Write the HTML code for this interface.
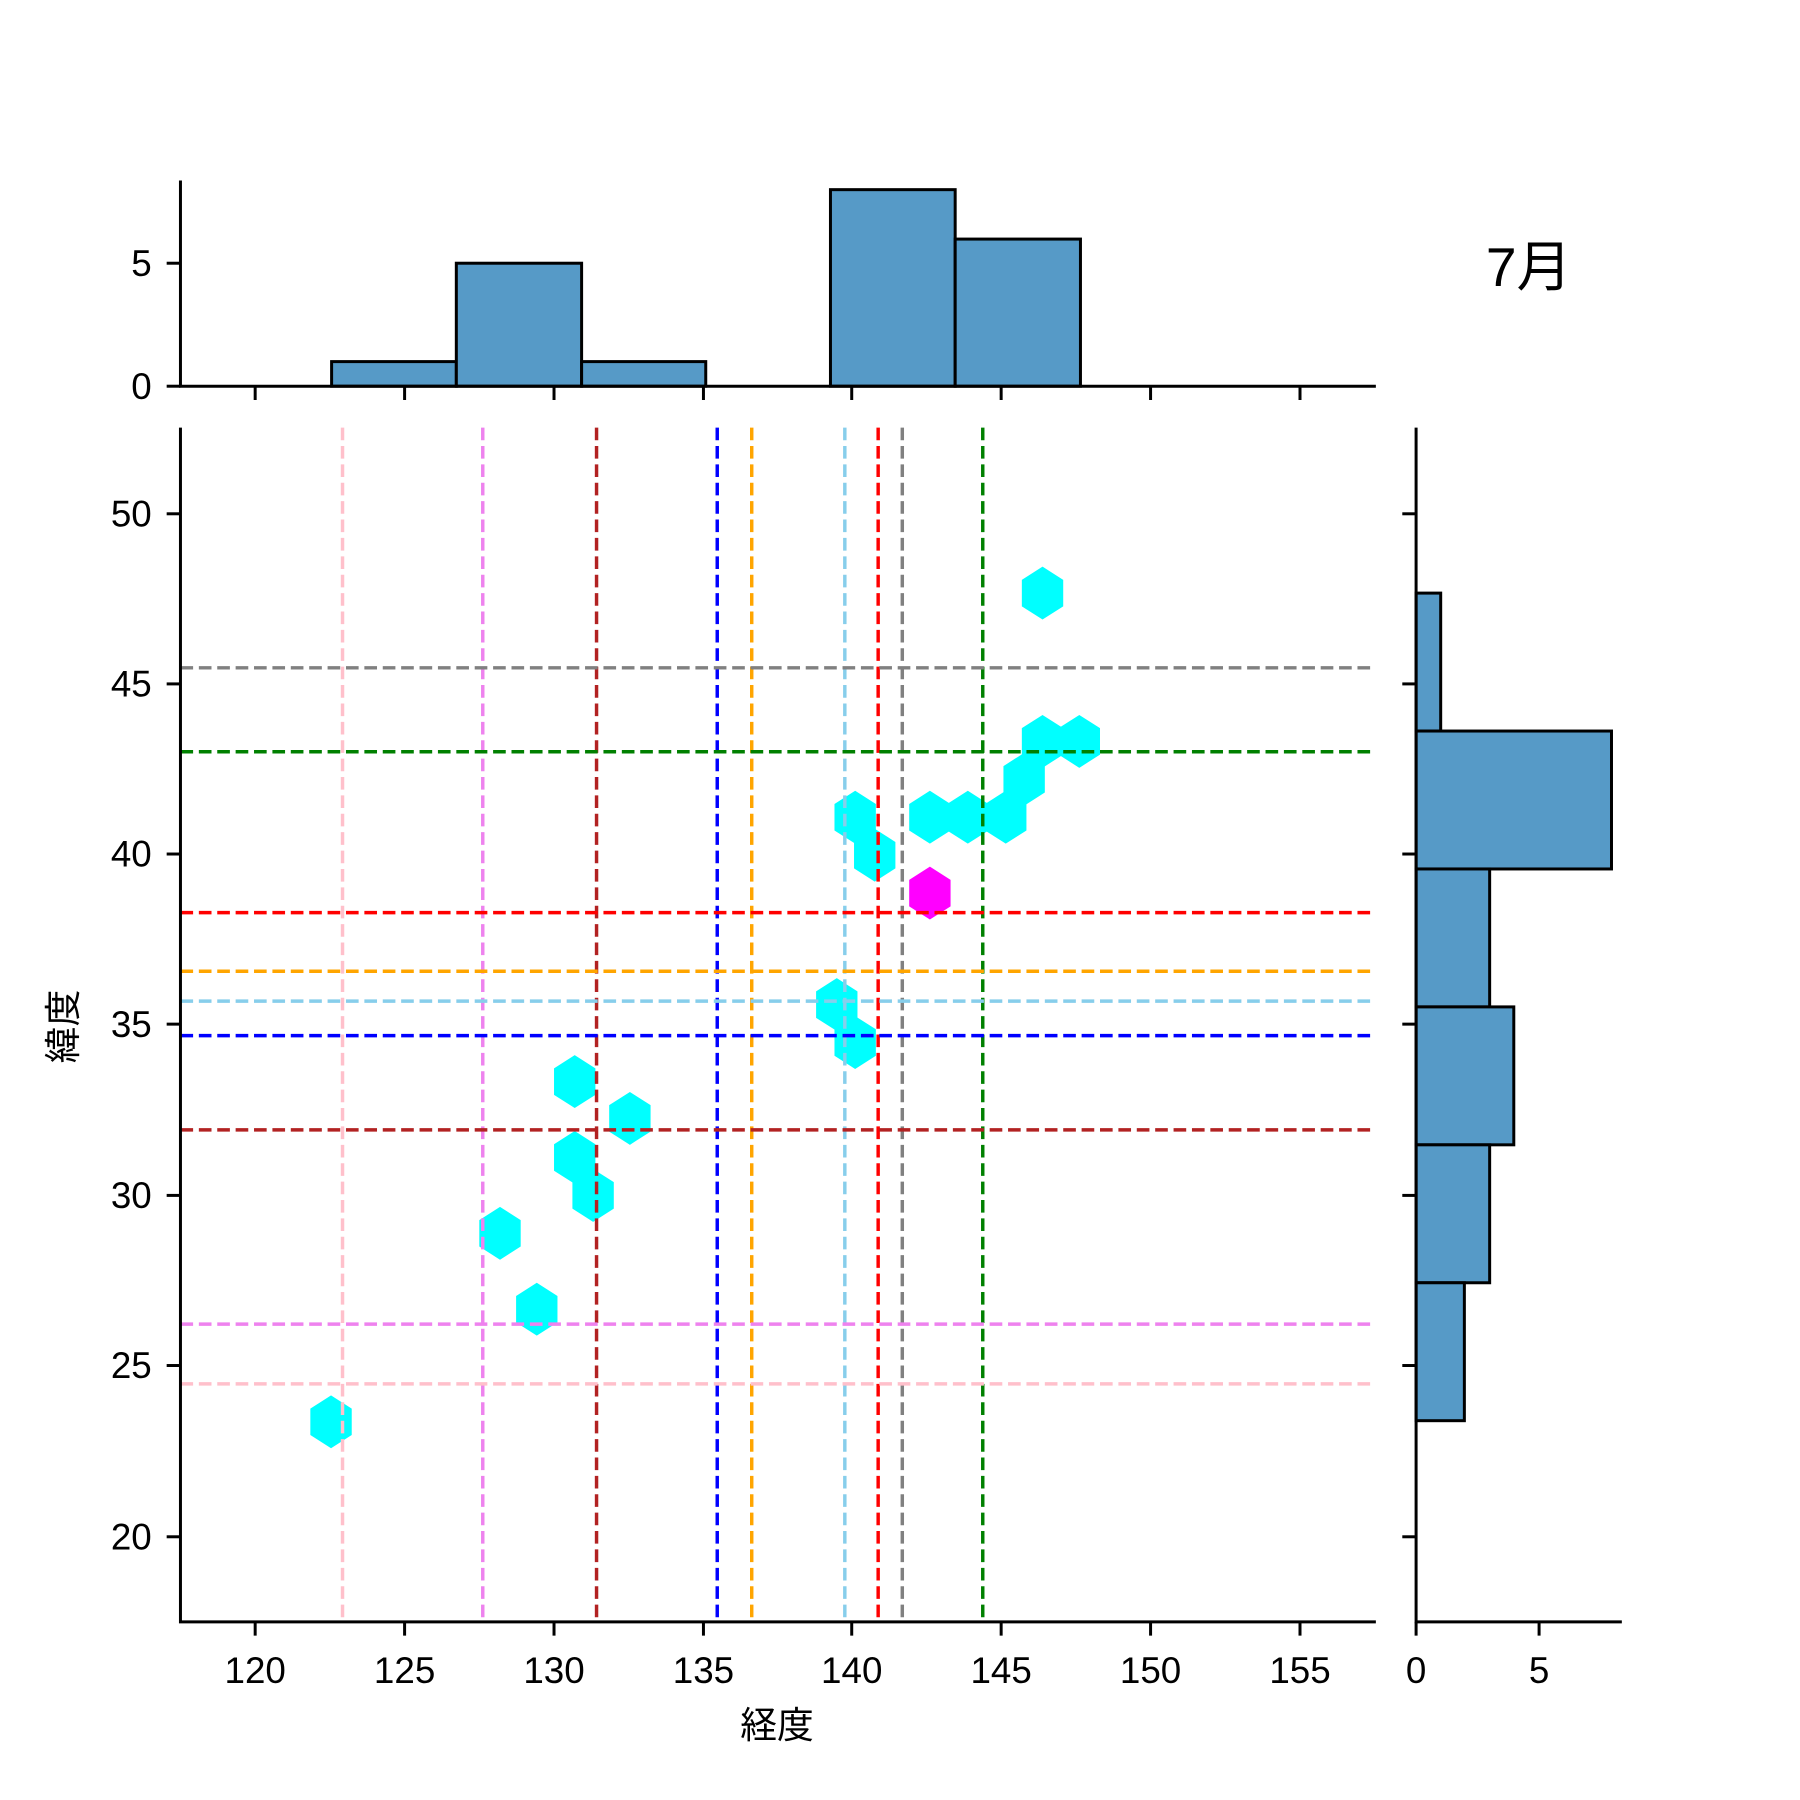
<!DOCTYPE html>
<html><head><meta charset="utf-8"><style>html,body{margin:0;padding:0;background:#fff}svg{display:block}text{font-family:"Liberation Sans","Noto Sans CJK JP",sans-serif;fill:#000}</style></head>
<body>
<svg width="1800" height="1800" viewBox="0 0 1566 1566" xmlns="http://www.w3.org/2000/svg">
<rect width="1566" height="1566" fill="#fff"/>
<defs><path id="hx" d="M0,-23 L18,-11.5 L18,11.5 L0,23 L-18,11.5 L-18,-11.5 Z"/></defs>
<!-- hexes -->
<g fill="#00ffff">
<use href="#hx" x="907" y="516"/><use href="#hx" x="907" y="645"/><use href="#hx" x="939" y="645"/>
<use href="#hx" x="891" y="678"/><use href="#hx" x="875" y="711"/><use href="#hx" x="842" y="711"/>
<use href="#hx" x="809" y="711"/><use href="#hx" x="744" y="711"/><use href="#hx" x="761" y="744"/>
<use href="#hx" x="728" y="874"/><use href="#hx" x="744" y="907"/><use href="#hx" x="500" y="941"/>
<use href="#hx" x="548" y="973"/><use href="#hx" x="500" y="1007"/><use href="#hx" x="516" y="1040"/>
<use href="#hx" x="435" y="1073"/><use href="#hx" x="467" y="1139"/><use href="#hx" x="288" y="1237"/>
</g>
<use href="#hx" x="809" y="777" fill="#ff00ff"/>
<!-- dashed lines -->
<g stroke-width="3" stroke-dasharray="11,5" fill="none">
<line x1="298" y1="372" x2="298" y2="1411" stroke="pink"/>
<line x1="420" y1="372" x2="420" y2="1411" stroke="violet"/>
<line x1="519" y1="372" x2="519" y2="1411" stroke="firebrick"/>
<line x1="624" y1="372" x2="624" y2="1411" stroke="blue"/>
<line x1="654" y1="372" x2="654" y2="1411" stroke="orange"/>
<line x1="735" y1="372" x2="735" y2="1411" stroke="skyblue"/>
<line x1="764" y1="372" x2="764" y2="1411" stroke="red"/>
<line x1="785" y1="372" x2="785" y2="1411" stroke="gray"/>
<line x1="855" y1="372" x2="855" y2="1411" stroke="green"/>
<line x1="157" y1="581" x2="1197" y2="581" stroke="gray"/>
<line x1="157" y1="654" x2="1197" y2="654" stroke="green"/>
<line x1="157" y1="794" x2="1197" y2="794" stroke="red"/>
<line x1="157" y1="845" x2="1197" y2="845" stroke="orange"/>
<line x1="157" y1="871" x2="1197" y2="871" stroke="skyblue"/>
<line x1="157" y1="901" x2="1197" y2="901" stroke="blue"/>
<line x1="157" y1="983" x2="1197" y2="983" stroke="firebrick"/>
<line x1="157" y1="1152" x2="1197" y2="1152" stroke="violet"/>
<line x1="157" y1="1204" x2="1197" y2="1204" stroke="pink"/>
</g>
<!-- main axes -->
<g stroke="#000" stroke-width="2.6" fill="none">
<polyline points="157,372 157,1411 1197,1411"/>
<line x1="222" y1="1411" x2="222" y2="1423"/><line x1="352" y1="1411" x2="352" y2="1423"/><line x1="482" y1="1411" x2="482" y2="1423"/><line x1="612" y1="1411" x2="612" y2="1423"/><line x1="741" y1="1411" x2="741" y2="1423"/><line x1="871" y1="1411" x2="871" y2="1423"/><line x1="1001" y1="1411" x2="1001" y2="1423"/><line x1="1131" y1="1411" x2="1131" y2="1423"/>
<line x1="145" y1="447" x2="157" y2="447"/><line x1="145" y1="595" x2="157" y2="595"/><line x1="145" y1="743" x2="157" y2="743"/><line x1="145" y1="891" x2="157" y2="891"/><line x1="145" y1="1040" x2="157" y2="1040"/><line x1="145" y1="1188" x2="157" y2="1188"/><line x1="145" y1="1337" x2="157" y2="1337"/>
</g>
<g font-size="32" text-anchor="middle">
<text x="222" y="1464">120</text><text x="352" y="1464">125</text><text x="482" y="1464">130</text><text x="612" y="1464">135</text><text x="741" y="1464">140</text><text x="871" y="1464">145</text><text x="1001" y="1464">150</text><text x="1131" y="1464">155</text>
</g>
<g font-size="32" text-anchor="end">
<text x="132" y="458">50</text><text x="132" y="606">45</text><text x="132" y="754">40</text><text x="132" y="902">35</text><text x="132" y="1051">30</text><text x="132" y="1199">25</text><text x="132" y="1348">20</text>
</g>
<text x="676" y="1512" font-size="32" text-anchor="middle">経度</text>
<text transform="translate(66,893) rotate(-90)" font-size="32" text-anchor="middle">緯度</text>
<!-- top hist -->
<g fill="#569ac7" stroke="#000" stroke-width="2.6">
<rect x="288.5" y="314.6" width="108.5" height="21.4"/>
<rect x="397" y="229" width="109" height="107"/>
<rect x="506" y="314.6" width="108" height="21.4"/>
<rect x="722.5" y="165" width="108.5" height="171"/>
<rect x="831" y="208" width="109" height="128"/>
</g>
<g stroke="#000" stroke-width="2.6" fill="none">
<polyline points="157,157 157,336 1197,336"/>
<line x1="145" y1="229" x2="157" y2="229"/><line x1="145" y1="336" x2="157" y2="336"/>
<line x1="222" y1="336" x2="222" y2="348"/><line x1="352" y1="336" x2="352" y2="348"/><line x1="482" y1="336" x2="482" y2="348"/><line x1="612" y1="336" x2="612" y2="348"/><line x1="741" y1="336" x2="741" y2="348"/><line x1="871" y1="336" x2="871" y2="348"/><line x1="1001" y1="336" x2="1001" y2="348"/><line x1="1131" y1="336" x2="1131" y2="348"/>
</g>
<g font-size="32" text-anchor="end"><text x="132" y="240">5</text><text x="132" y="347">0</text></g>
<text x="1330" y="249" font-size="48" text-anchor="middle">7月</text>
<!-- right hist -->
<g fill="#569ac7" stroke="#000" stroke-width="2.6">
<rect x="1232" y="516" width="21.4" height="120"/>
<rect x="1232" y="636" width="170" height="120"/>
<rect x="1232" y="756" width="64" height="120"/>
<rect x="1232" y="876" width="85" height="120"/>
<rect x="1232" y="996" width="64" height="120"/>
<rect x="1232" y="1116" width="42" height="120"/>
</g>
<g stroke="#000" stroke-width="2.6" fill="none">
<polyline points="1232,372 1232,1411 1411,1411"/>
<line x1="1232" y1="1411" x2="1232" y2="1423"/><line x1="1339" y1="1411" x2="1339" y2="1423"/>
<line x1="1220" y1="447" x2="1232" y2="447"/><line x1="1220" y1="595" x2="1232" y2="595"/><line x1="1220" y1="743" x2="1232" y2="743"/><line x1="1220" y1="891" x2="1232" y2="891"/><line x1="1220" y1="1040" x2="1232" y2="1040"/><line x1="1220" y1="1188" x2="1232" y2="1188"/><line x1="1220" y1="1337" x2="1232" y2="1337"/>
</g>
<g font-size="32" text-anchor="middle"><text x="1232" y="1464">0</text><text x="1339" y="1464">5</text></g>
</svg>
</body></html>
